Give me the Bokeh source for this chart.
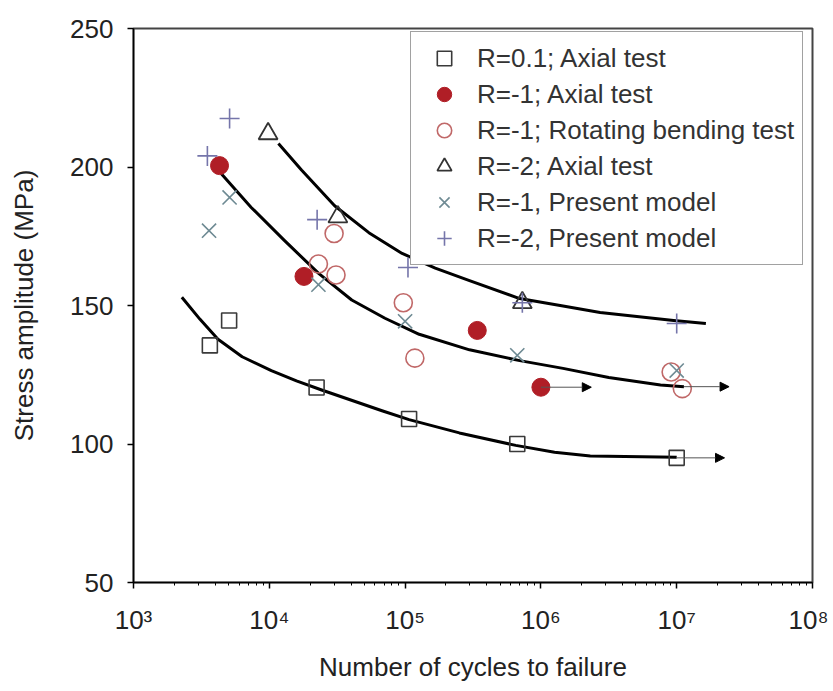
from bokeh.plotting import figure
from bokeh.models import (ColumnDataSource, FixedTicker, Arrow, NormalHead,
                          Legend, LegendItem)
from bokeh.embed import file_html
from bokeh.resources import INLINE

# ---------------- data ----------------
# R=0.1; Axial test (open squares)
sq_x = [3.65e3, 5.06e3, 2.23e4, 1.07e5, 6.7e5, 1.0e7]
sq_y = [135.6, 144.6, 120.4, 109.0, 100.0, 95.0]
# R=-1; Axial test (filled circles)
fc_x = [4.3e3, 1.8e4, 3.4e5, 1.0e6]
fc_y = [200.5, 160.5, 141.0, 120.5]
# R=-1; Rotating bending test (open circles)
oc_x = [3.0e4, 2.3e4, 3.1e4, 9.7e4, 1.18e5, 9.1e6, 1.1e7]
oc_y = [176.0, 165.0, 161.0, 151.0, 131.0, 126.0, 120.0]
# R=-2; Axial test (triangles)
tr_x = [9.8e3, 3.2e4, 7.3e5]
tr_y = [212.0, 182.0, 151.0]
# R=-1, Present model (x)
xm_x = [3.6e3, 5.1e3, 2.3e4, 1.0e5, 6.7e5, 1.0e7]
xm_y = [177.0, 189.0, 157.5, 144.3, 132.0, 126.5]
# R=-2, Present model (+)
pm_x = [5.1e3, 3.5e3, 2.25e4, 1.05e5, 7.3e5, 1.0e7]
pm_y = [217.5, 204.0, 181.0, 163.7, 151.0, 143.5]

# fitted S-N curves
c1_x = [2.27e3, 3.09e3, 4.19e3, 6.31e3, 1.035e4, 1.585e4, 2.43e4, 6.76e4,
        1.07e5, 2.51e5, 6.53e5, 1.26e6, 2.31e6, 1.0e7]
c1_y = [153.0, 145.0, 137.8, 131.5, 126.5, 122.8, 119.5, 112.0,
        108.8, 104.0, 99.5, 97.0, 95.7, 95.2]
c2_x = [4.4e3, 7.36e3, 1.29e4, 2.307e4, 4.046e4, 7.11e4, 1.27e5, 2.98e5,
        6.98e5, 1.456e6, 3.16e6, 7.6e6, 1.13e7]
c2_y = [197.7, 185.4, 173.5, 161.6, 152.0, 145.4, 139.6, 134.0,
        130.1, 127.3, 124.0, 121.3, 120.7]
c3_x = [1.167e4, 1.726e4, 3.027e4, 5.408e4, 9.506e4, 1.667e5, 2.98e5,
        6.98e5, 1.456e6, 2.73e6, 9.5e6, 1.64e7]
c3_y = [208.5, 198.9, 186.0, 176.3, 168.8, 163.5, 159.0,
        152.5, 149.8, 147.5, 144.6, 143.5]

# run-out arrows
run_x0 = [1.0e6, 1.13e7, 1.0e7]
run_x1 = [2.35e6, 2.43e7, 2.25e7]
run_y = [120.5, 120.7, 95.0]

# axes
x_ticks = [1e3, 1e4, 1e5, 1e6, 1e7, 1e8]
x_tick_labels = ["10\u00b3", "10\u2074", "10\u2075", "10\u2076", "10\u2077", "10\u2078"]
y_ticks = [50, 100, 150, 200, 250]

legend_labels = ["R=0.1; Axial test", "R=-1; Axial test",
                 "R=-1; Rotating bending test", "R=-2; Axial test",
                 "R=-1, Present model", "R=-2, Present model"]

FONT = "Liberation Sans"

p = figure(x_axis_type="log", x_range=(1e3, 1e8), y_range=(50, 250),
           frame_width=679, frame_height=554,
           min_border_left=133, min_border_top=28, min_border_right=16,
           min_border_bottom=100,
           output_backend="svg", toolbar_location=None,
           background_fill_color="white", border_fill_color="white")
p.grid.visible = False
p.outline_line_color = "#444444"
p.outline_line_width = 2

# curves
for cx, cy in [(c1_x, c1_y), (c2_x, c2_y), (c3_x, c3_y)]:
    p.line(cx, cy, line_color="black", line_width=3, line_join="round")

# arrows
asrc = ColumnDataSource(dict(x0=run_x0, x1=run_x1, y=run_y))
p.add_layout(Arrow(x_start="x0", y_start="y", x_end="x1", y_end="y",
                   source=asrc, line_color="#555555", line_width=1,
                   end=NormalHead(size=9, fill_color="black",
                                  line_color="black", line_width=1)))

# markers
r_sq = p.scatter(sq_x, sq_y, marker="square", size=15, fill_color=None,
                 line_color="#3a3a3a", line_width=1.6)
r_fc = p.scatter(fc_x, fc_y, marker="circle", size=18, fill_color="#b01e26",
                 line_color="#b01e26", line_width=1)
r_oc = p.scatter(oc_x, oc_y, marker="circle", size=18, fill_color=None,
                 line_color="#c06868", line_width=1.6)
r_tr = p.scatter(tr_x, tr_y, marker="triangle", size=19, fill_color=None,
                 line_color="#333333", line_width=1.8)
r_xm = p.scatter(xm_x, xm_y, marker="x", size=20, fill_color=None,
                 line_color="#6e8a93", line_width=1.6)
r_pm = p.scatter(pm_x, pm_y, marker="cross", size=20, fill_color=None,
                 line_color="#7575aa", line_width=1.6)

items = [LegendItem(label=lab, renderers=[r]) for lab, r in
         zip(legend_labels, [r_sq, r_fc, r_oc, r_tr, r_xm, r_pm])]
legend = Legend(items=items, location=(277, 317),
                padding=8, spacing=0, glyph_width=50, glyph_height=36,
                label_height=36, label_width=300, label_standoff=8,
                label_text_font=FONT, label_text_font_size="26px",
                label_text_color="#333333",
                border_line_color="#444444", border_line_width=1.5,
                background_fill_color="white", background_fill_alpha=1)
p.add_layout(legend)

# axes
p.xaxis.ticker = FixedTicker(ticks=x_ticks,
                             minor_ticks=[m * 10 ** e for e in range(3, 8) for m in range(2, 10)])
p.xaxis.major_label_overrides = {t: l for t, l in zip(x_ticks, x_tick_labels)}
p.yaxis.ticker = FixedTicker(ticks=y_ticks)
p.yaxis.minor_tick_line_color = None

p.xaxis.axis_label = "Number of cycles to failure"
p.yaxis.axis_label = "Stress amplitude (MPa)"
for ax in (p.xaxis, p.yaxis):
    ax.axis_line_color = "black"
    ax.axis_line_width = 1.5
    ax.major_tick_line_color = "black"
    ax.major_tick_line_width = 1.5
    ax.major_tick_out = 6
    ax.major_tick_in = 0
    ax.major_label_text_font = FONT
    ax.major_label_text_font_size = "26px"
    ax.major_label_text_color = "#222222"
    ax.axis_label_text_font = FONT
    ax.axis_label_text_font_size = "26px"
    ax.axis_label_text_font_style = "normal"
    ax.axis_label_text_color = "#222222"
p.xaxis.minor_tick_line_color = "black"
p.xaxis.minor_tick_out = 3
p.xaxis.minor_tick_in = 0
p.xaxis.major_label_standoff = 16
p.xaxis.axis_label_standoff = 14
p.yaxis.major_label_standoff = 14
p.yaxis.axis_label_standoff = 28

open("out.html", "w").write(file_html(p, INLINE))
